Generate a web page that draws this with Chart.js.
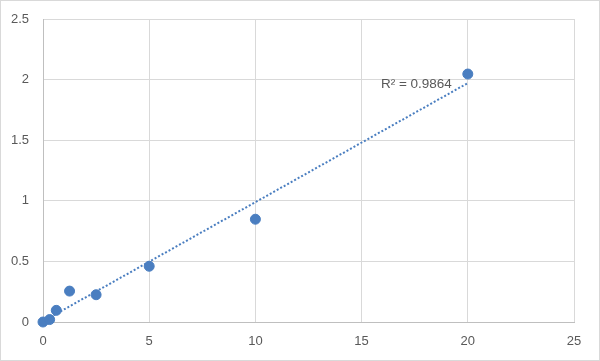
<!DOCTYPE html>
<html>
<head>
<meta charset="utf-8">
<script src="https://cdn.jsdelivr.net/npm/chart.js@4/dist/chart.umd.min.js"></script>
<style>
    body { margin: 0; background: #fff; }
    .frame { width: 600px; height: 361px; box-sizing: border-box; border: 1px solid #d9d9d9; }
</style>
</head>
<body>
<div class="frame"><canvas id="curveChart"></canvas></div>
<script>
// Standard concentrations and measured OD
const concentrations = [0, 0.3125, 0.625, 1.25, 2.5, 5, 10, 20];
const odValues = [0, 0.02, 0.096, 0.255, 0.225, 0.46, 0.848, 2.046];
const xTicks = [0, 5, 10, 15, 20, 25];
const yTicks = [0, 0.5, 1, 1.5, 2, 2.5];
const rSquaredLabel = 'R² = 0.9864';

const fontFamily = '"Liberation Sans", Arial, sans-serif';

// Linear trendline through the measured points (least squares)
function fitLine(xs, ys) {
    const n = xs.length;
    const mx = xs.reduce((a, b) => a + b, 0) / n;
    const my = ys.reduce((a, b) => a + b, 0) / n;
    let sxy = 0, sxx = 0;
    for (let i = 0; i < n; i++) {
        sxy += (xs[i] - mx) * (ys[i] - my);
        sxx += (xs[i] - mx) * (xs[i] - mx);
    }
    const slope = sxy / sxx;
    return { slope: slope, intercept: my - slope * mx };
}
const fit = fitLine(concentrations, odValues);
const xFirst = concentrations[0];
const xLast = concentrations[concentrations.length - 1];
const trendPoints = [
    { x: xFirst, y: fit.intercept + fit.slope * xFirst },
    { x: xLast, y: fit.intercept + fit.slope * xLast }
];

const rSquaredPlugin = {
    id: 'rSquared',
    afterDatasetsDraw(chart) {
        const ctx = chart.ctx;
        const px = chart.scales.x.getPixelForValue(19.25);
        const py = chart.scales.y.getPixelForValue(1.96);
        ctx.save();
        ctx.fillStyle = '#595959';
        ctx.font = '13.5px ' + fontFamily;
        ctx.textAlign = 'right';
        ctx.textBaseline = 'middle';
        ctx.fillText(rSquaredLabel, px, py);
        ctx.restore();
    }
};

new Chart(document.getElementById('curveChart'), {
    type: 'scatter',
    data: {
        datasets: [{
            label: 'Trend',
            type: 'line',
            data: trendPoints,
            borderColor: '#4a7ec0',
            borderWidth: 2,
            borderDash: [2, 2],
            pointRadius: 0,
            fill: false,
            clip: false
        }, {
            label: 'OD',
            data: concentrations.map((c, i) => ({ x: c, y: odValues[i] })),
            backgroundColor: '#4a7ec0',
            borderColor: '#4a7ec0',
            pointRadius: 5,
            pointHoverRadius: 5,
            clip: false
        }]
    },
    options: {
        responsive: true,
        maintainAspectRatio: false,
        animation: false,
        layout: {
            padding: { top: 18, right: 25, bottom: 0, left: 0 }
        },
        plugins: {
            legend: { display: false },
            tooltip: { enabled: false }
        },
        scales: {
            x: {
                type: 'linear',
                min: 0,
                max: 25,
                afterBuildTicks: axis => { axis.ticks = xTicks.map(v => ({ value: v })); },
                afterFit: axis => { axis.height = 38; axis.paddingRight = 0; axis.paddingLeft = 0; },
                grid: { color: '#d9d9d9', drawTicks: false },
                border: { color: '#bfbfbf' },
                ticks: {
                    color: '#595959',
                    padding: 12,
                    font: { family: fontFamily, size: 13 }
                }
            },
            y: {
                min: 0,
                max: 2.5,
                afterBuildTicks: axis => { axis.ticks = yTicks.map(v => ({ value: v })); },
                afterFit: axis => { axis.width = 42; axis.paddingTop = 0; axis.paddingBottom = 0; },
                grid: { color: '#d9d9d9', drawTicks: false },
                border: { color: '#bfbfbf' },
                ticks: {
                    color: '#595959',
                    padding: 14,
                    font: { family: fontFamily, size: 13 },
                    callback: v => String(v)
                }
            }
        }
    },
    plugins: [rSquaredPlugin]
});
</script>
</body>
</html>
